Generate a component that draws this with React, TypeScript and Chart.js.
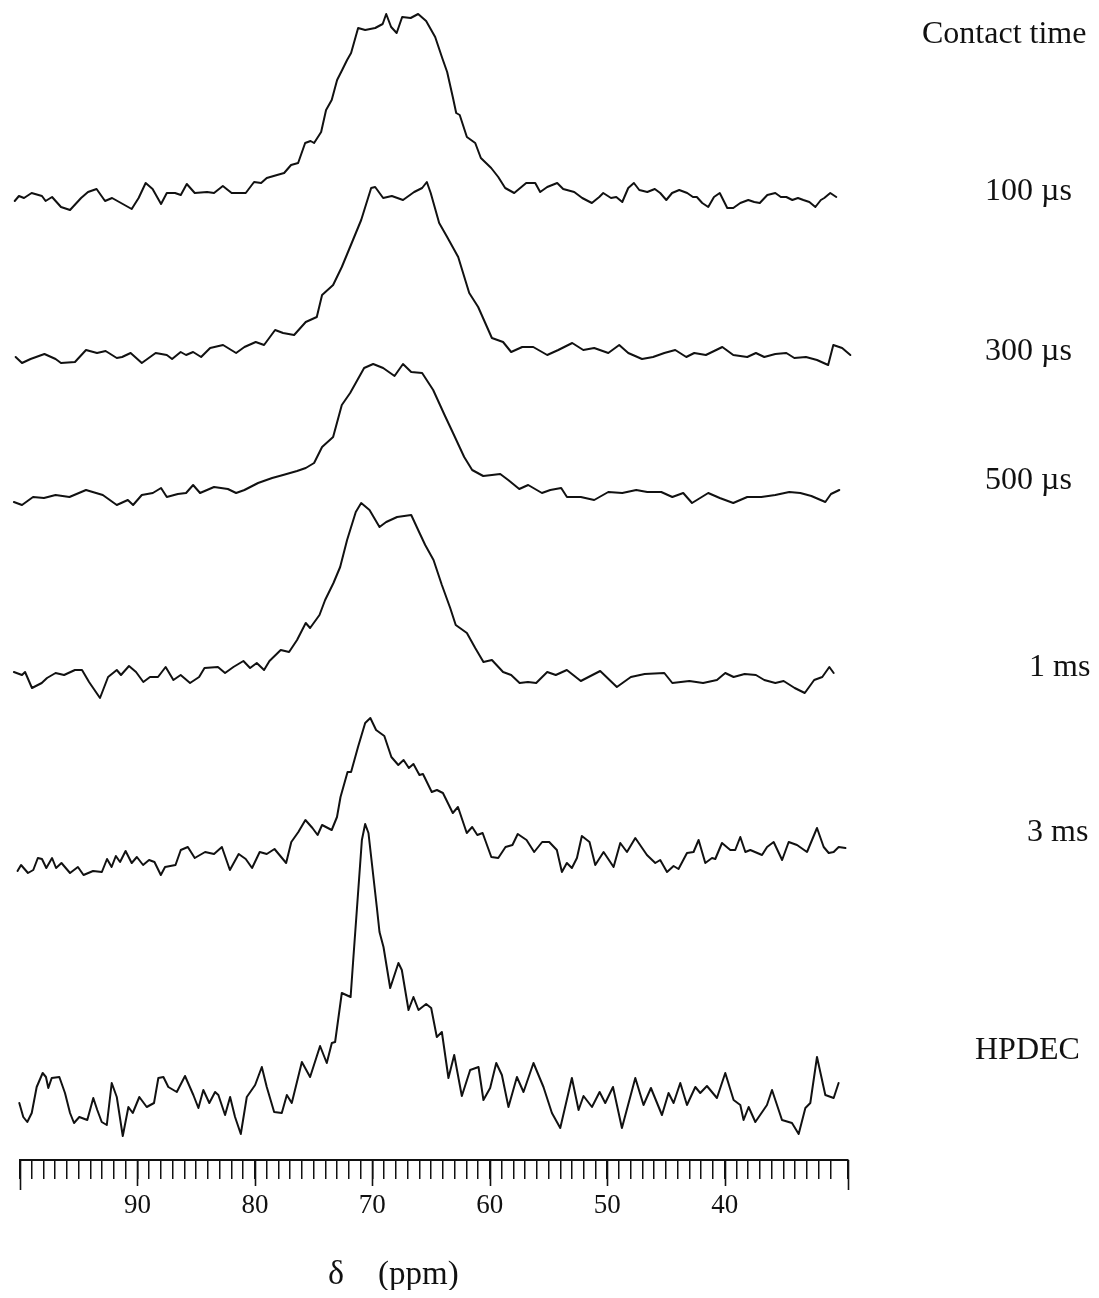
import React, { useEffect, useRef } from 'react';
import { Chart, registerables } from 'chart.js';

Chart.register(...registerables);

// ---------- text ----------
const HEADER = 'Contact time';
const SERIES_LABELS = ['100 µs', '300 µs', '500 µs', '1 ms', '3 ms', 'HPDEC'];
const AXIS_SYMBOL = 'δ';
const AXIS_UNIT = '(ppm)';

// ---------- axis (ppm, reversed) ----------
const AXIS_MIN = 29.5;
const AXIS_MAX = 100;
const MAJOR_TICKS = [90, 80, 70, 60, 50, 40];

// vertical stacking offset of each spectrum (intensity units)
const BASELINE_OFFSETS = [963, 805, 663, 484, 300, 60];

// ---------- spectra: chemical shift (ppm) and intensity ----------
const PPM_100US = [
  100.45, 100.09, 99.66, 99.01, 98.13, 97.82, 97.27, 96.51, 95.74, 94.8,
  94.21, 93.48, 92.76, 92.16, 91.4, 90.49, 89.9, 89.3, 88.71, 87.99,
  87.5, 86.8, 86.31, 85.8, 85.12, 84.07, 83.48, 82.73, 81.98, 80.78,
  80.07, 79.47, 78.99, 78.11, 77.51, 76.92, 76.32, 75.72, 75.26, 74.96,
  74.36, 73.94, 73.46, 73.0, 72.57, 72.15, 71.81, 71.21, 70.61, 69.76,
  69.12, 68.82, 68.4, 67.93, 67.46, 66.74, 66.1, 65.42, 64.65, 64.05,
  63.63, 63.15, 62.86, 62.56, 61.95, 61.24, 60.76, 59.88, 59.28, 58.69,
  57.92, 56.9, 56.13, 55.71, 55.11, 54.26, 53.75, 52.81, 52.13, 51.31,
  50.68, 50.34, 49.68, 49.23, 48.72, 48.21, 47.73, 47.27, 46.59, 45.95,
  45.49, 44.97, 44.48, 43.87, 43.19, 42.7, 42.37, 41.91, 41.4, 40.91,
  40.42, 39.78, 39.27, 38.67, 37.99, 37.48, 37.01, 36.37, 35.69, 35.22,
  34.75, 34.24, 33.76, 33.3, 32.79, 32.28, 31.81, 31.52, 31.01, 30.5,
];
const INT_100US = [
  -4, 1, -1, 4, 1, -4, 0, -10, -13, -1,
  5, 8, -4, -1, -6, -12, -1, 14, 8, -7,
  4, 4, 2, 13, 4, 5, 4, 11, 4, 4,
  15, 14, 19, 22, 24, 32, 34, 54, 56, 54,
  65, 87, 97, 117, 127, 137, 144, 169, 167, 169,
  173, 183, 170, 164, 180, 179, 183, 176, 160, 139,
  125, 100, 84, 82, 60, 54, 39, 29, 20, 9,
  4, 14, 14, 5, 10, 14, 8, 5, -1, -6,
  0, 4, -1, 0, -5, 9, 14, 7, 5, 8,
  4, -3, 4, 7, 4, 0, 0, -6, -10, 0,
  4, -11, -11, -6, -3, -5, -6, 2, 4, 0,
  0, -3, -1, -3, -5, -10, -3, -1, 4, 0,
];

const PPM_300US = [
  100.37, 99.83, 99.1, 97.92, 96.97, 96.51, 95.32, 94.38, 93.44, 92.71,
  91.76, 91.31, 90.58, 89.63, 88.45, 87.5, 87.05, 86.32, 85.86, 85.26,
  84.58, 83.81, 82.71, 81.6, 80.89, 79.93, 79.22, 78.28, 77.6, 76.66,
  75.67, 74.73, 74.28, 73.34, 72.6, 71.65, 70.95, 70.1, 69.76, 69.08,
  68.34, 67.39, 66.44, 65.76, 65.36, 65.03, 64.31, 63.63, 62.69, 61.75,
  60.99, 59.82, 58.87, 58.18, 57.24, 56.3, 55.11, 54.17, 52.98, 52.04,
  51.11, 49.91, 48.98, 48.21, 47.04, 46.1, 45.14, 44.21, 43.27, 42.59,
  41.6, 40.2, 39.27, 38.08, 37.34, 36.63, 35.69, 34.75, 34.07, 33.08,
  32.14, 31.19, 30.75, 30.0, 29.3,
];
const INT_300US = [
  -2, -8, -4, 1, -4, -8, -7, 5, 2, 4,
  -3, -2, 2, -8, 2, 0, -4, 3, 0, 3,
  -2, 7, 10, 2, 8, 13, 10, 25, 22, 20,
  33, 38, 60, 70, 88, 115, 135, 167, 168, 157,
  159, 155, 163, 167, 173, 162, 132, 118, 98, 62,
  48, 17, 13, 3, 8, 8, 0, 5, 12, 5,
  7, 2, 10, 2, -4, -2, 2, 5, -2, 2,
  0, 8, 0, -2, 2, -2, 1, 2, -3, -2,
  -5, -10, 10, 7, 0,
];

const PPM_500US = [
  100.52, 99.83, 98.89, 97.96, 96.97, 95.79, 94.38, 92.95, 91.76, 90.82,
  90.37, 89.63, 88.69, 87.99, 87.5, 86.56, 85.86, 85.26, 84.67, 83.48,
  82.3, 81.6, 80.89, 79.73, 78.53, 77.6, 76.41, 75.67, 74.96, 74.28,
  73.34, 72.6, 71.89, 70.7, 69.93, 69.08, 68.11, 67.39, 66.69, 65.76,
  64.82, 63.85, 63.13, 62.18, 61.5, 60.56, 59.82, 59.11, 58.43, 57.49,
  56.73, 55.56, 54.85, 53.92, 53.43, 52.25, 51.11, 49.91, 48.72, 47.53,
  46.59, 45.4, 44.46, 43.53, 42.78, 41.4, 40.42, 39.27, 38.08, 36.88,
  35.69, 34.5, 33.56, 32.62, 31.43, 30.95, 30.24,
];
const INT_500US = [
  -5, -8, 0, -1, 2, 0, 7, 2, -8, -3,
  -8, 2, 4, 9, 0, 3, 4, 12, 4, 10,
  8, 4, 7, 14, 19, 22, 26, 29, 34, 50,
  60, 92, 104, 129, 133, 129, 121, 133, 125, 124,
  107, 82, 64, 40, 27, 21, 22, 23, 17, 8,
  12, 4, 7, 9, 0, 0, -3, 5, 4, 7,
  5, 5, 0, 4, -6, 4, -1, -6, 0, 0,
  2, 5, 4, 1, -5, 3, 7,
];

const PPM_1MS = [
  100.52, 99.83, 99.57, 98.98, 98.15, 97.7, 96.97, 96.25, 95.32, 94.72,
  94.12, 93.19, 92.5, 91.76, 91.4, 90.72, 90.12, 89.5, 88.93, 88.25,
  87.6, 86.94, 86.32, 85.52, 84.75, 84.29, 83.15, 82.54, 81.83, 80.98,
  80.41, 79.84, 79.22, 78.76, 77.8, 77.09, 76.41, 75.67, 75.3, 74.5,
  74.02, 73.31, 72.74, 72.15, 71.41, 70.95, 70.24, 69.39, 68.82, 67.89,
  66.69, 65.98, 65.5, 64.79, 64.08, 63.37, 62.9, 61.95, 61.24, 60.54,
  59.82, 58.87, 58.18, 57.46, 56.75, 56.05, 55.11, 54.38, 53.44, 52.25,
  50.6, 49.18, 47.99, 46.81, 45.14, 44.46, 43.01, 41.84, 40.66, 39.95,
  39.24, 38.3, 37.34, 36.63, 35.69, 34.98, 34.04, 33.18, 32.38, 31.69,
  31.09, 30.72,
];
const INT_1MS = [
  4, 1, 4, -12, -7, -2, 3, 1, 6, 6,
  -6, -22, -1, 6, 1, 10, 4, -6, -1, -1,
  9, -4, 1, -7, -1, 8, 9, 3, 9, 15,
  8, 13, 6, 15, 26, 24, 36, 53, 48, 61,
  76, 93, 109, 136, 164, 173, 166, 149, 154, 159,
  161, 143, 131, 116, 91, 68, 51, 43, 28, 14,
  16, 4, 1, -7, -6, -7, 4, 1, 6, -5,
  5, -11, -1, 2, 3, -7, -5, -7, -4, 3,
  -1, 2, 1, -4, -7, -5, -12, -17, -4, -1,
  9, 3,
];

const PPM_3MS = [
  100.21, 99.91, 99.32, 98.87, 98.48, 98.13, 97.76, 97.27, 96.93, 96.47,
  95.74, 95.07, 94.59, 93.78, 93.03, 92.59, 92.2, 91.84, 91.48, 91.01,
  90.49, 90.05, 89.52, 89.01, 88.55, 88.01, 87.65, 86.76, 86.31, 85.71,
  85.12, 84.24, 83.48, 82.81, 82.13, 81.38, 80.78, 80.24, 79.59, 78.99,
  78.33, 77.34, 76.9, 76.3, 75.7, 75.1, 74.66, 74.28, 73.46, 73.01,
  72.71, 72.11, 71.81, 71.22, 70.61, 70.17, 69.68, 68.98, 68.38, 67.79,
  67.34, 66.89, 66.5, 65.99, 65.69, 64.94, 64.5, 63.99, 63.15, 62.71,
  61.96, 61.5, 61.06, 60.61, 59.87, 59.28, 58.66, 58.07, 57.62, 56.87,
  56.22, 55.54, 54.94, 54.29, 53.86, 53.44, 53.01, 52.58, 52.16, 51.51,
  51.02, 50.31, 49.46, 48.89, 48.32, 47.61, 46.62, 45.91, 45.49, 44.91,
  44.35, 43.93, 43.21, 42.65, 42.22, 41.65, 41.08, 40.8, 40.23, 39.52,
  39.1, 38.67, 38.24, 37.82, 36.82, 36.39, 35.83, 35.11, 34.55, 33.84,
  32.99, 32.14, 31.57, 31.14, 30.72, 30.29, 29.72,
];
const INT_3MS = [
  -11, -5, -13, -10, 2, 1, -8, 2, -8, -3,
  -13, -7, -15, -11, -12, 1, -7, 4, -2, 9,
  -3, 3, -5, 0, -2, -15, -7, -5, 10, 13,
  2, 8, 6, 13, -10, 6, 1, -8, 8, 6,
  11, -3, 18, 28, 40, 32, 25, 35, 30, 43,
  63, 88, 88, 113, 137, 142, 130, 124, 103, 95,
  100, 92, 96, 85, 86, 68, 70, 67, 47, 53,
  27, 33, 25, 27, 3, 2, 13, 15, 26, 20,
  8, 18, 18, 10, -12, -3, -8, 2, 24, 18,
  -5, 8, -7, 17, 8, 22, 5, -3, 0, -12,
  -6, -9, 7, 8, 20, -3, 2, 1, 17, 10,
  10, 23, 8, 10, 5, 13, 18, 0, 18, 15,
  8, 32, 13, 7, 8, 13, 12,
];

const PPM_HPDEC = [
  100.06, 99.72, 99.38, 99.0, 98.58, 98.07, 97.79, 97.59, 97.3, 96.65,
  96.17, 95.74, 95.4, 94.95, 94.27, 93.76, 93.42, 93.04, 92.61, 92.19,
  91.76, 91.25, 90.77, 90.4, 89.84, 89.21, 88.59, 88.22, 87.79, 87.37,
  86.65, 85.95, 85.24, 84.81, 84.39, 83.88, 83.39, 83.11, 82.54, 82.11,
  81.69, 81.2, 80.69, 79.98, 79.41, 78.99, 78.36, 77.71, 77.28, 76.86,
  76.0, 75.3, 74.45, 73.88, 73.45, 73.17, 72.6, 71.85, 71.61, 71.32,
  70.89, 70.61, 70.33, 69.62, 69.39, 69.05, 68.48, 67.78, 67.49, 66.92,
  66.5, 66.07, 65.42, 64.99, 64.51, 64.08, 63.52, 63.03, 62.38, 61.67,
  60.96, 60.54, 59.97, 59.45, 58.97, 58.41, 57.69, 57.13, 56.28, 55.43,
  54.71, 54.0, 53.01, 52.44, 52.02, 51.3, 50.65, 50.17, 49.51, 48.75,
  47.61, 46.91, 46.28, 45.34, 44.78, 44.35, 43.78, 43.21, 42.5, 42.08,
  41.51, 40.66, 39.95, 39.24, 38.67, 38.39, 37.96, 37.39, 36.4, 35.97,
  35.12, 34.27, 33.7, 33.13, 32.71, 32.14, 31.43, 30.72, 30.3,
];
const INT_HPDEC = [
  -3, -17, -22, -13, 13, 27, 23, 12, 22, 23,
  7, -13, -23, -17, -20, 2, -10, -22, -25, 17,
  3, -36, -7, -13, 3, -7, -3, 22, 23, 13,
  8, 24, 5, -8, 10, -3, 8, 5, -15, 3,
  -17, -34, 3, 15, 33, 13, -12, -13, 5, -3,
  38, 23, 54, 37, 57, 58, 107, 103, 143, 190,
  260, 276, 267, 193, 168, 153, 112, 137, 130, 90,
  103, 90, 96, 92, 63, 68, 22, 45, 4, 30,
  33, 0, 12, 37, 25, -7, 23, 8, 37, 13,
  -13, -28, 22, -10, 4, -7, 8, -3, 13, -28,
  22, -5, 12, -15, 7, -3, 17, -5, 13, 7,
  14, 2, 27, 0, -5, -20, -7, -22, -5, 10,
  -20, -23, -34, -8, -3, 43, 5, 2, 17,
];

const SERIES_PPM = [PPM_100US, PPM_300US, PPM_500US, PPM_1MS, PPM_3MS, PPM_HPDEC];
const SERIES_INT = [INT_100US, INT_300US, INT_500US, INT_1MS, INT_3MS, INT_HPDEC];

// ---------- styling ----------
const INK = '#111111';
const SERIF = '"Liberation Serif", "Times New Roman", serif';
const CANVAS_W = 1083;
const CANVAS_H = 1282;
const PLOT_H = 1152;
const MINOR_TICK = 19;
const MAJOR_TICK = 26;
const END_TICK = 30;
// label anchor points (canvas px): [left, middle-y]
const HEADER_POS = [914, 27];
const LABEL_POS = [
  [977, 184],
  [977, 344],
  [977, 473],
  [1021, 660],
  [1019, 825],
  [967, 1043],
];
const TITLE_POS = { symbolX: 320, unitX: 370, baseline: 1276 };

const decorPlugin = {
  id: 'nmrDecor',
  afterDraw(chart: any) {
    const { ctx } = chart;
    const x = chart.scales.x;
    const top = x.top;
    ctx.save();
    ctx.strokeStyle = INK;
    ctx.lineWidth = 1.6;
    ctx.beginPath();
    for (const v of MAJOR_TICKS) {
      const px = Math.round(x.getPixelForValue(v)) + 0.5;
      ctx.moveTo(px, top);
      ctx.lineTo(px, top + MAJOR_TICK);
    }
    for (const v of [AXIS_MIN, AXIS_MAX]) {
      const px = Math.round(x.getPixelForValue(v)) + 0.5;
      ctx.moveTo(px, top);
      ctx.lineTo(px, top + END_TICK);
    }
    ctx.stroke();

    ctx.fillStyle = INK;
    ctx.textAlign = 'left';
    ctx.textBaseline = 'middle';
    ctx.font = `32px ${SERIF}`;
    ctx.fillText(HEADER, HEADER_POS[0], HEADER_POS[1]);
    SERIES_LABELS.forEach((t, i) => {
      ctx.fillText(t, LABEL_POS[i][0], LABEL_POS[i][1]);
    });

    ctx.textBaseline = 'alphabetic';
    ctx.font = `34px ${SERIF}`;
    ctx.fillText(AXIS_SYMBOL, TITLE_POS.symbolX, TITLE_POS.baseline);
    ctx.font = `33px ${SERIF}`;
    ctx.fillText(AXIS_UNIT, TITLE_POS.unitX, TITLE_POS.baseline);
    ctx.restore();
  },
};

export default function App() {
  const ref = useRef<HTMLCanvasElement | null>(null);

  useEffect(() => {
    if (!ref.current) return;
    const datasets = SERIES_LABELS.map((label, i) => {
      const ppm = SERIES_PPM[i];
      const inten = SERIES_INT[i];
      const n = Math.min(ppm.length, inten.length);
      const data = [];
      for (let k = 0; k < n; k++) data.push({ x: ppm[k], y: BASELINE_OFFSETS[i] + inten[k] });
      return {
        label,
        data,
        borderColor: INK,
        borderWidth: 2,
        pointRadius: 0,
        tension: 0,
        fill: false,
        clip: false as const,
        borderJoinStyle: 'round' as const,
        borderCapStyle: 'round' as const,
      };
    });

    const chart = new Chart(ref.current, {
      type: 'line',
      data: { datasets },
      options: {
        animation: false,
        responsive: false,
        maintainAspectRatio: false,
        devicePixelRatio: 1,
        parsing: false,
        layout: { padding: { left: 12, right: 243, top: 0, bottom: 0 } },
        plugins: {
          legend: { display: false },
          tooltip: { enabled: false },
          title: { display: false },
        },
        scales: {
          x: {
            type: 'linear',
            reverse: true,
            min: AXIS_MIN,
            max: AXIS_MAX,
            afterFit: (s: any) => {
              s.height = CANVAS_H - PLOT_H;
            },
            border: { display: true, color: INK, width: 2 },
            grid: {
              display: true,
              drawOnChartArea: false,
              drawTicks: true,
              tickLength: MINOR_TICK,
              color: INK,
              lineWidth: 1.5,
            },
            ticks: {
              stepSize: 1,
              autoSkip: false,
              maxRotation: 0,
              includeBounds: true,
              padding: 11,
              color: INK,
              font: { family: SERIF, size: 27 },
              callback: (v: any) => (MAJOR_TICKS.includes(Number(v)) ? String(v) : ''),
            },
          } as any,
          y: { display: false, min: 0, max: PLOT_H },
        },
      },
      plugins: [decorPlugin],
    });
    return () => chart.destroy();
  }, []);

  return (
    <div style={{ width: CANVAS_W, height: CANVAS_H }}>
      <canvas ref={ref} width={CANVAS_W} height={CANVAS_H} style={{ display: 'block' }} />
    </div>
  );
}
